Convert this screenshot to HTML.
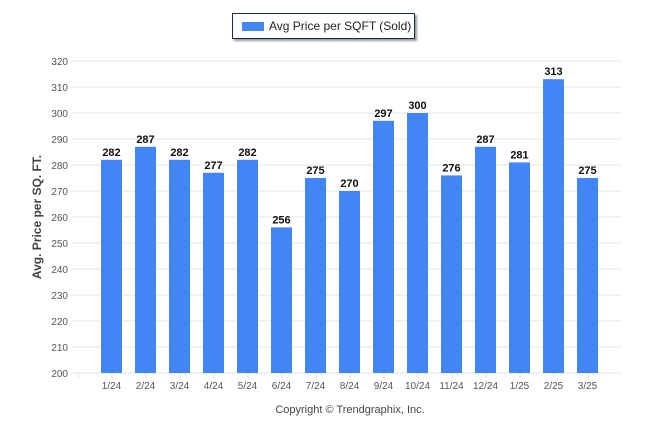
<!DOCTYPE html>
<html><head><meta charset="utf-8"><style>
body{margin:0;background:#fff;font-family:"Liberation Sans",Arial,sans-serif}
#wrap{position:relative;width:646px;height:434px;overflow:hidden}
#legend{position:absolute;left:232px;top:13px;width:181px;height:24px;border:1px solid #1f2d4d;box-shadow:2px 2px 2px #999;background:#fff}
#legend .sw{position:absolute;left:9px;top:8px;width:22px;height:9px;background:#4285f4}
#legend .tx{position:absolute;left:36px;top:5px;font-size:12px;color:#222}
</style></head><body>
<div id="wrap">
<div id="legend"><div class="sw"></div><div class="tx">Avg Price per SQFT (Sold)</div></div>
<svg id="svg" width="646" height="434" style="position:absolute;left:0;top:0"></svg>
</div>
<script>
const categories=["1/24","2/24","3/24","4/24","5/24","6/24","7/24","8/24","9/24","10/24","11/24","12/24","1/25","2/25","3/25"];
const values=[282,287,282,277,282,256,275,270,297,300,276,287,281,313,275];
const yTicks=[200,210,220,230,240,250,260,270,280,290,300,310,320];
const svg=document.getElementById('svg');
const NS='http://www.w3.org/2000/svg';
const yMin=200,yMax=320,yTop=61,yBot=373;
function y(v){return yBot-(v-yMin)/(yMax-yMin)*(yBot-yTop);}
function xc(i){return 111.5+34*i;}
function mk(t,a,txt){const e=document.createElementNS(NS,t);for(const k in a)e.setAttribute(k,a[k]);if(txt!==undefined)e.textContent=txt;svg.appendChild(e);return e;}
yTicks.forEach(v=>{
 const l=mk('line',{x1:72,x2:622,y1:y(v),y2:y(v),stroke:'#e6e6e6','stroke-width':1});
 
 
 const t=mk('text',{x:68,y:y(v)+4,'text-anchor':'end','font-size':10,fill:'#555'},v);
 
 
});
for(let i=0;i<=categories.length;i++){
 const tk=mk('line',{x1:xc(i)-34+0.5,x2:xc(i)-34+0.5,y1:yBot,y2:yBot+5,stroke:'#ddd'});
 
 
}
categories.forEach((c,i)=>{
 const v=values[i];
 const r=mk('rect',{x:xc(i)-10.5,y:y(v),width:21,height:yBot-y(v),fill:'#4285f4'});
 
 
 const lb=mk('text',{x:xc(i),y:y(v)-4,'text-anchor':'middle','font-size':11,'font-weight':'bold',fill:'#111'},v);
 
 
 const xl=mk('text',{x:xc(i),y:389,'text-anchor':'middle','font-size':10,fill:'#555'},c);
 
 
});
const yt=mk('text',{x:0,y:0,transform:'translate(41,217) rotate(-90)','text-anchor':'middle','font-size':12,'font-weight':'bold',fill:'#444'},'Avg. Price per SQ. FT.');


const cp=mk('text',{x:350,y:413,'text-anchor':'middle','font-size':11,fill:'#444'},'Copyright © Trendgraphix, Inc.');


</script>
</body></html>
